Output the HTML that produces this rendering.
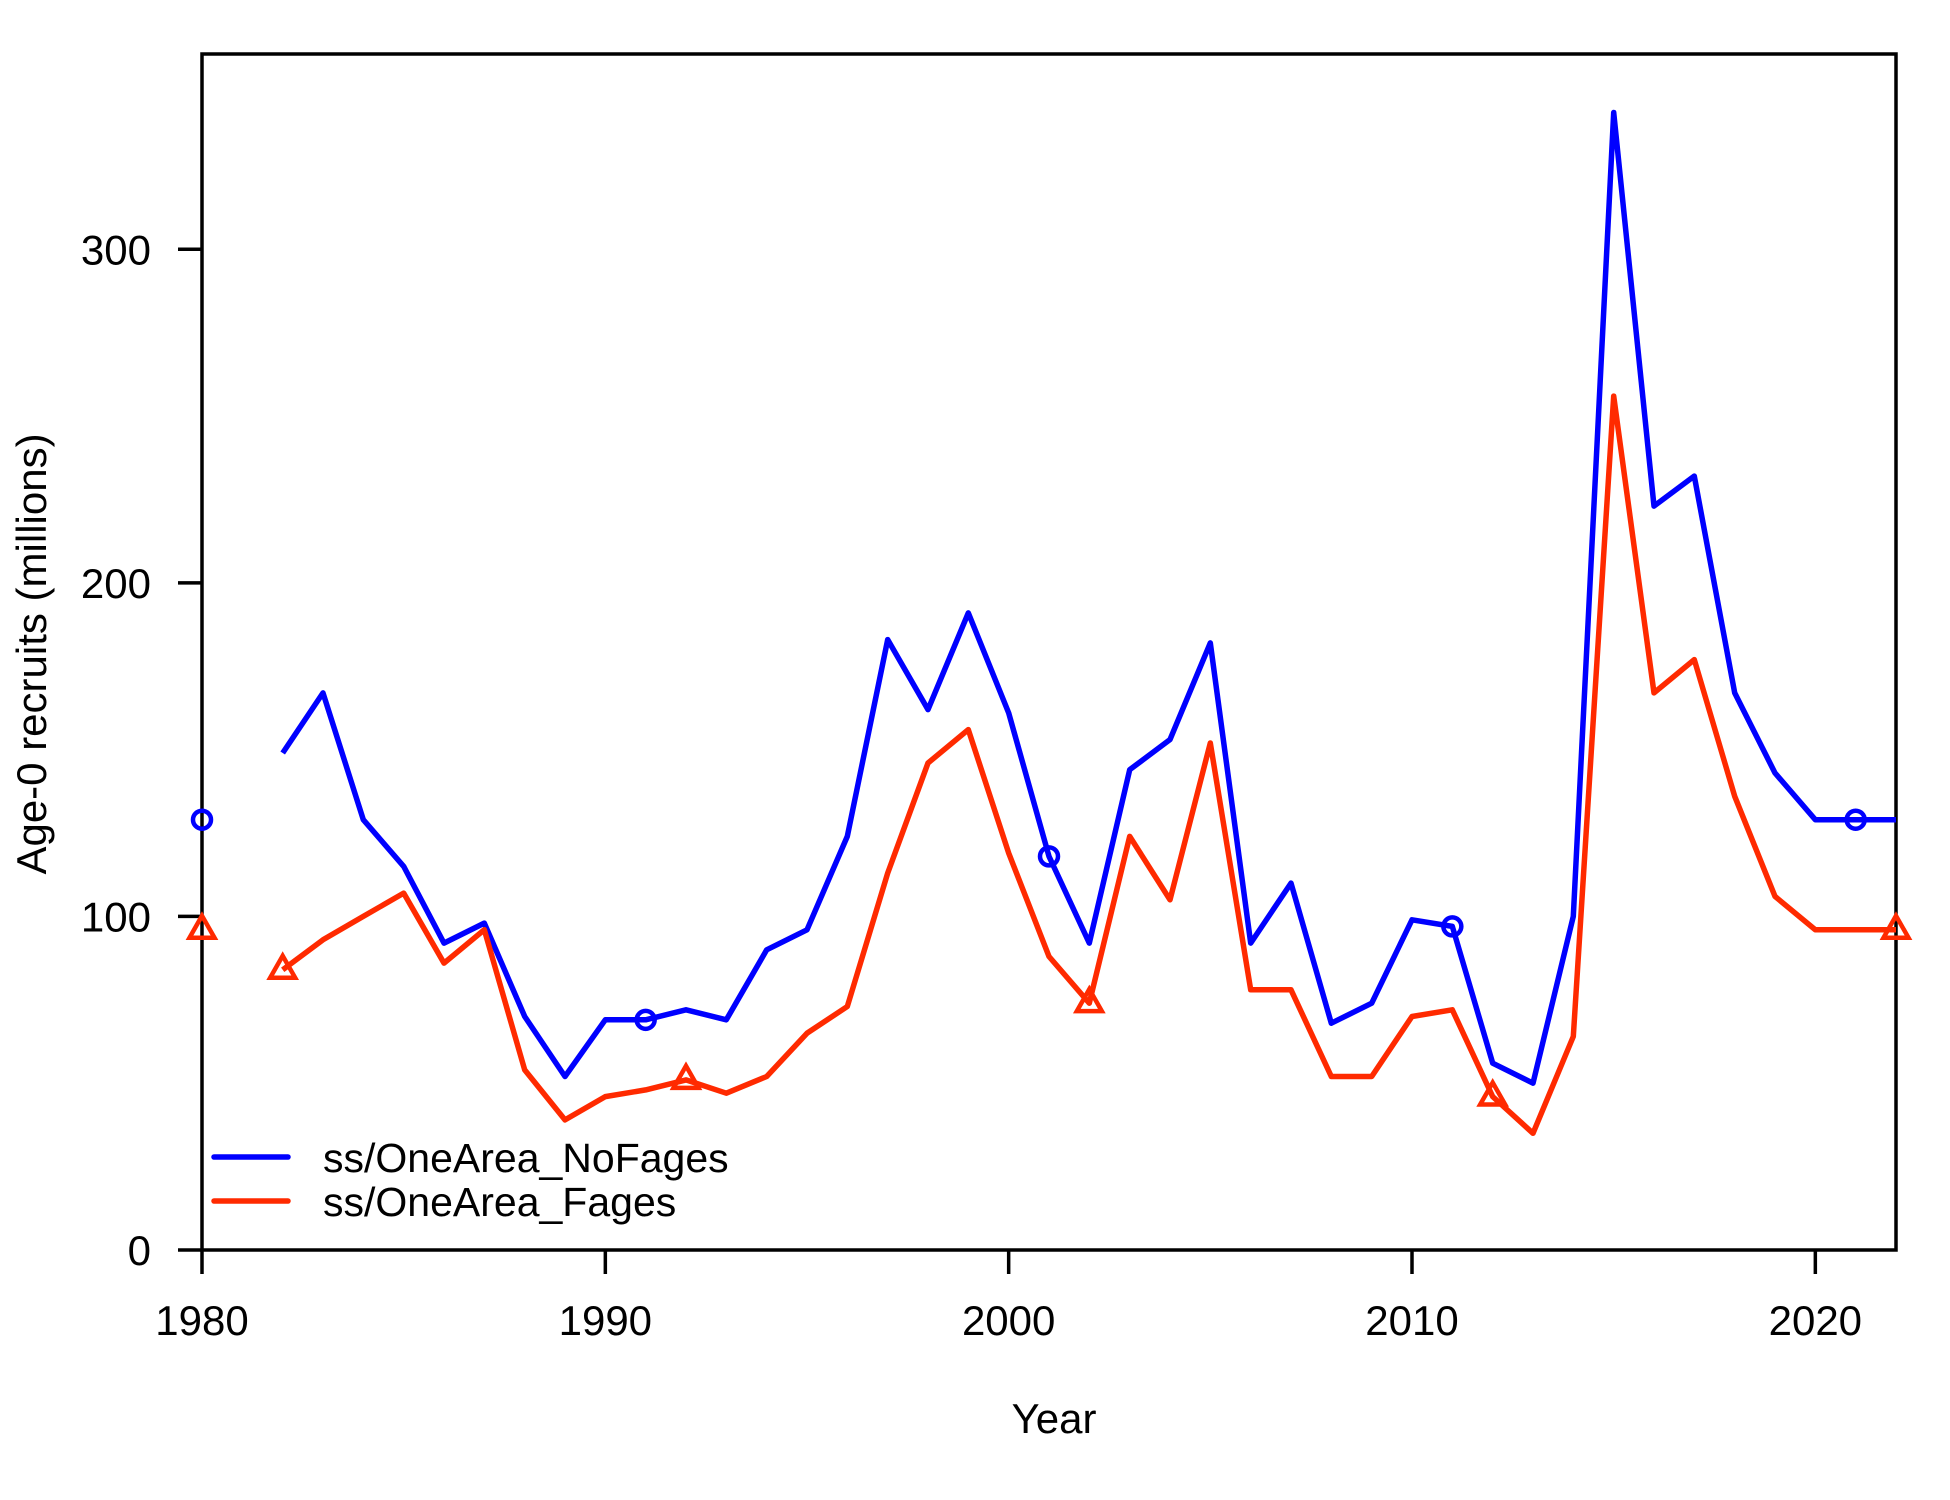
<!DOCTYPE html>
<html><head><meta charset="utf-8"><style>
html,body{margin:0;padding:0;background:#fff;}
svg{display:block;font-family:"Liberation Sans",Arial,sans-serif;}
</style></head><body>
<svg id="chart" width="1950" height="1500" viewBox="0 0 1950 1500" xmlns="http://www.w3.org/2000/svg">
<rect x="0" y="0" width="1950" height="1500" fill="#fff"/>
<g id="plot"></g>
</svg>
<script>
const years = [1980,1981,1982,1983,1984,1985,1986,1987,1988,1989,1990,1991,1992,1993,1994,1995,1996,1997,1998,1999,2000,2001,2002,2003,2004,2005,2006,2007,2008,2009,2010,2011,2012,2013,2014,2015,2016,2017,2018,2019,2020,2021,2022];
const noFages = [129,null,149,167,129,115,92,98,70,52,69,69,72,69,90,96,124,183,162,191,161,118,92,144,153,182,92,110,68,74,99,97,56,50,100,341,223,232,167,143,129,129,129];
const fages = [96,null,84,93,100,107,86,96,54,39,46,48,51,47,52,65,73,113,146,156,119,88,74,124,105,152,78,78,52,52,70,72,46,35,64,256,167,177,136,106,96,96,96];
const circleYears = [1980,1991,2001,2011,2021];
const triYears = [1980,1982,1992,2002,2012,2022];
const xTicks = [1980,1990,2000,2010,2020];
const yTicks = [0,100,200,300];

const L=202,R=1896,T=54,B=1250;
const x = v => L + (v-1980)*(R-L)/42;
const y = v => B - v*3.3357;
const g = document.getElementById('plot');
const NS='http://www.w3.org/2000/svg';
function mk(tag, attrs){const e=document.createElementNS(NS,tag);for(const k in attrs)e.setAttribute(k,attrs[k]);g.appendChild(e);return e;}

const box = mk('rect',{x:L,y:T,width:R-L,height:B-T,fill:'none',stroke:'#000','stroke-width':3.5});



xTicks.forEach(t=>{
  const tk=mk('line',{x1:x(t),x2:x(t),y1:B,y2:B+24,stroke:'#000','stroke-width':3.5});
  
  
  const lb=mk('text',{x:x(t),y:1335,'font-size':42,'text-anchor':'middle'});lb.textContent=t;
  
  
});
yTicks.forEach(t=>{
  const tk=mk('line',{x1:L-24,x2:L,y1:y(t),y2:y(t),stroke:'#000','stroke-width':3.5});
  
  
  const lb=mk('text',{x:151,y:y(t)+15,'font-size':42,'text-anchor':'end'});lb.textContent=t;
  
  
});
const xt=mk('text',{x:1054,y:1433,'font-size':42,'text-anchor':'middle'});xt.textContent='Year';


const yt=mk('text',{x:0,y:0,'font-size':42,'text-anchor':'middle',transform:'translate(46,654) rotate(-90)'});yt.textContent='Age-0 recruits (millions)';



function drawSeries(vals,color,name){
  let d='',pen=false;
  vals.forEach((v,i)=>{
    if(v===null){pen=false;return;}
    d+=(pen?'L':'M')+x(years[i]).toFixed(1)+','+y(v).toFixed(1);pen=true;
  });
  const p=mk('path',{d:d,fill:'none',stroke:color,'stroke-width':5.5,'stroke-linejoin':'round'});
  
  
}
drawSeries(noFages,'#0000ff','series-nofages-line');
drawSeries(fages,'#ff2a00','series-fages-line');

circleYears.forEach(yr=>{
  const v=noFages[years.indexOf(yr)];
  const c=mk('circle',{cx:x(yr),cy:y(v),r:9,fill:'none',stroke:'#0000ff','stroke-width':4.5});
  
  
});
triYears.forEach(yr=>{
  const v=fages[years.indexOf(yr)];
  const cx=x(yr),cy=y(v);
  const t=mk('polygon',{points:`${cx},${cy-14} ${cx-12.5},${cy+8} ${cx+12.5},${cy+8}`,fill:'none',stroke:'#ff2a00','stroke-width':4.5});
  
  
});

const leg=[['ss/OneArea_NoFages','#0000ff',1157],['ss/OneArea_Fages','#ff2a00',1201]];
leg.forEach(([lab,col,yy])=>{
  const ln=mk('line',{x1:214,x2:288,y1:yy,y2:yy,stroke:col,'stroke-width':5.5,'stroke-linecap':'round'});
  
  
  const tx=mk('text',{x:323,y:yy+15,'font-size':41});tx.textContent=lab;
  
  
});
</script>
</body></html>
